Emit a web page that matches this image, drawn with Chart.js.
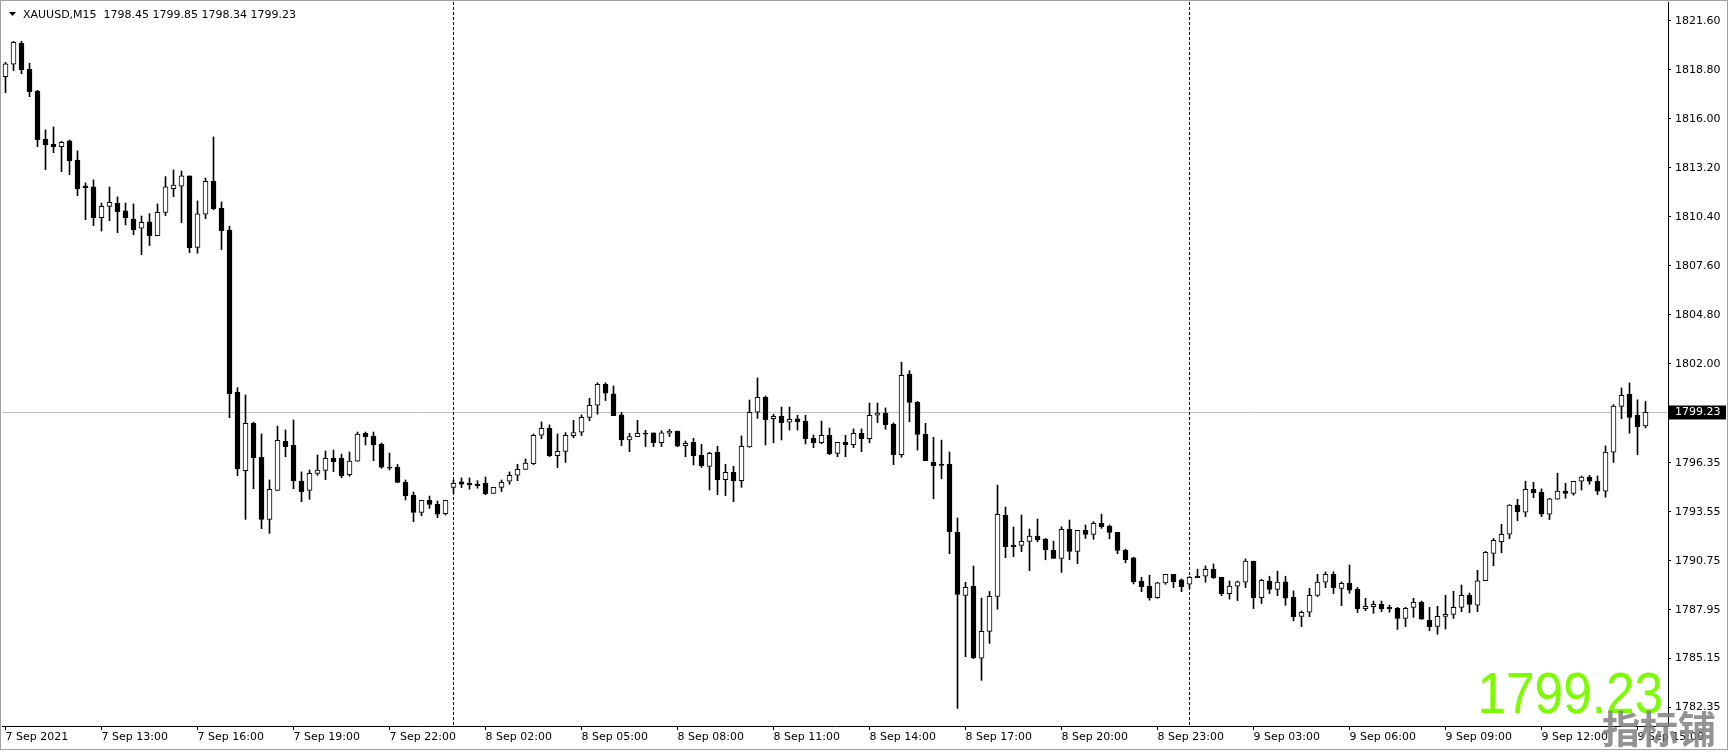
<!DOCTYPE html>
<html>
<head>
<meta charset="utf-8">
<title>XAUUSD,M15</title>
<script src="https://cdn.jsdelivr.net/npm/chart.js@4.4.0/dist/chart.umd.min.js"></script>
<style>
  html, body { margin: 0; padding: 0; background: #fff; }
  #grafico { display: block; }
</style>
</head>
<body>
<canvas id="grafico" width="1733" height="752"></canvas>
<script>
// velas M15, desde 7 Sep 10:00
var opens = [
  1818.41,1819.12,1820.32,1818.83,1817.59,1814.83,1814.55,1814.41,1814.74,1813.65,
  1812.18,1812.11,1810.36,1811.00,1811.19,1810.74,1810.28,1809.75,1810.11,1809.33,
  1810.66,1812.01,1812.15,1812.74,1808.66,1810.55,1812.43,1810.89,1809.64,1800.37,
  1795.89,1798.60,1796.65,1793.11,1794.77,1797.57,1797.34,1795.30,1794.77,1795.74,
  1795.91,1796.62,1796.62,1795.66,1796.43,1798.03,1797.87,1797.42,1796.08,1796.08,
  1795.22,1794.48,1793.51,1794.20,1793.97,1793.43,1794.94,1795.25,1795.17,1795.13,
  1795.19,1794.60,1794.94,1795.29,1795.63,1795.97,1796.30,1797.92,1798.32,1796.75,
  1797.00,1797.90,1798.09,1798.94,1799.63,1800.83,1800.28,1799.08,1797.65,1797.84,
  1798.03,1798.05,1797.50,1798.03,1798.16,1797.32,1797.51,1796.77,1796.14,1796.94,
  1795.38,1795.80,1795.32,1797.25,1799.23,1800.09,1798.87,1799.00,1798.66,1798.85,
  1798.73,1797.74,1797.50,1797.91,1796.88,1797.51,1797.38,1798.03,1797.72,1799.06,
  1799.19,1798.56,1796.81,1801.42,1799.80,1797.99,1796.37,1796.25,1796.25,1792.37,
  1788.77,1789.28,1785.17,1786.71,1788.71,1793.34,1791.64,1791.62,1791.85,1792.16,
  1791.99,1791.34,1790.88,1792.54,1791.28,1792.48,1792.25,1792.88,1792.73,1792.37,
  1791.34,1790.91,1789.59,1789.29,1788.64,1789.48,1789.97,1789.65,1789.40,1789.86,
  1789.86,1790.26,1789.80,1788.87,1789.29,1789.52,1790.72,1788.64,1789.59,1789.10,
  1789.54,1788.66,1787.57,1787.80,1788.77,1789.52,1789.97,1789.17,1789.45,1789.11,
  1788.00,1788.12,1788.25,1788.08,1788.02,1787.45,1788.08,1788.37,1787.34,1786.99,
  1787.57,1787.68,1788.08,1788.77,1788.20,1789.60,1791.17,1791.84,1792.26,1793.92,
  1793.52,1794.83,1794.66,1793.40,1794.26,1794.72,1794.60,1795.29,1795.52,1795.29,
  1794.72,1796.95,1799.57,1800.26,1799.06,1798.45
];
var highs = [
  1819.23,1820.43,1820.43,1819.18,1817.63,1815.37,1815.54,1814.72,1814.79,1814.17,
  1812.34,1812.51,1811.19,1812.11,1811.54,1811.19,1811.14,1810.45,1810.58,1811.14,
  1812.70,1813.08,1813.02,1812.74,1811.31,1812.62,1814.97,1811.25,1809.87,1800.64,
  1800.22,1798.67,1797.99,1795.36,1798.44,1798.22,1798.79,1795.82,1795.93,1796.79,
  1797.02,1797.07,1796.84,1796.96,1798.10,1798.10,1798.10,1797.47,1796.90,1796.25,
  1795.36,1794.67,1794.20,1794.44,1794.16,1794.20,1795.36,1795.48,1795.48,1795.32,
  1795.53,1794.94,1795.36,1795.82,1796.26,1796.56,1797.99,1798.68,1798.51,1797.99,
  1798.07,1798.77,1799.08,1800.03,1800.92,1800.92,1800.73,1799.23,1798.03,1798.77,
  1798.20,1798.05,1798.18,1798.26,1798.16,1797.59,1797.74,1797.40,1796.94,1797.29,
  1796.26,1796.14,1797.88,1799.93,1801.19,1800.16,1799.11,1799.53,1799.53,1799.06,
  1799.06,1797.93,1798.73,1798.33,1797.51,1797.91,1798.28,1798.28,1799.76,1799.76,
  1799.48,1798.62,1802.09,1801.61,1799.85,1798.60,1797.80,1797.64,1796.96,1793.19,
  1789.51,1790.44,1788.61,1788.99,1795.07,1793.81,1792.67,1793.36,1792.56,1793.13,
  1792.02,1791.87,1792.69,1793.07,1792.48,1792.79,1792.98,1793.41,1792.79,1792.37,
  1791.41,1790.95,1789.80,1789.92,1789.52,1789.97,1789.97,1789.71,1789.84,1790.26,
  1790.45,1790.56,1789.80,1789.59,1789.59,1790.85,1790.72,1789.69,1789.86,1790.15,
  1789.86,1789.02,1787.88,1789.17,1789.97,1790.11,1790.11,1789.54,1790.50,1789.22,
  1788.60,1788.44,1788.44,1788.21,1788.08,1788.08,1788.60,1788.44,1788.08,1788.14,
  1788.77,1789.00,1789.36,1788.90,1790.20,1791.28,1792.02,1792.83,1793.95,1794.26,
  1795.29,1795.23,1794.85,1794.32,1795.75,1795.17,1795.29,1795.59,1795.63,1795.59,
  1797.31,1799.67,1800.62,1800.91,1799.94,1799.85
];
var lows = [
  1817.50,1818.76,1818.58,1817.27,1814.41,1813.10,1814.07,1812.98,1812.81,1811.61,
  1810.24,1809.90,1809.59,1810.18,1809.50,1809.94,1809.38,1808.24,1808.76,1809.33,
  1810.47,1811.56,1810.07,1808.36,1808.32,1810.30,1810.80,1808.53,1798.92,1795.61,
  1793.11,1794.86,1792.58,1792.31,1794.77,1796.69,1794.86,1794.12,1794.25,1795.63,
  1795.38,1795.84,1795.49,1795.57,1796.43,1797.36,1796.46,1796.03,1795.93,1795.22,
  1794.22,1792.98,1793.32,1793.74,1793.21,1793.36,1794.60,1794.92,1794.83,1794.89,
  1794.52,1794.60,1794.70,1795.12,1795.32,1795.97,1796.24,1797.72,1796.70,1796.07,
  1796.37,1797.78,1797.90,1798.75,1799.12,1799.90,1799.04,1797.32,1796.98,1797.84,
  1797.27,1797.27,1797.27,1797.84,1797.27,1796.69,1796.22,1796.08,1794.79,1794.52,
  1794.47,1794.12,1794.94,1797.23,1798.88,1797.36,1797.49,1797.65,1798.22,1798.22,
  1797.42,1797.21,1797.44,1796.81,1796.69,1796.69,1797.21,1796.98,1797.49,1798.64,
  1798.26,1796.24,1796.66,1798.69,1797.07,1796.46,1794.29,1795.43,1791.15,1782.31,
  1785.26,1785.15,1783.91,1786.02,1787.97,1790.92,1790.98,1791.26,1790.18,1791.83,
  1790.80,1790.88,1790.08,1790.80,1790.58,1792.02,1791.97,1792.60,1792.00,1791.15,
  1790.63,1789.42,1788.98,1788.49,1788.60,1789.40,1789.21,1788.98,1789.15,1789.78,
  1789.52,1789.73,1788.75,1788.55,1788.47,1789.21,1788.01,1788.30,1788.87,1788.75,
  1788.20,1787.31,1786.98,1787.55,1788.70,1789.21,1788.87,1788.18,1788.88,1787.78,
  1787.89,1787.74,1787.83,1787.80,1786.82,1786.98,1787.51,1787.40,1786.75,1786.54,
  1786.84,1787.45,1787.83,1787.78,1787.83,1789.60,1790.46,1791.20,1792.01,1793.04,
  1793.27,1794.35,1793.27,1793.10,1794.26,1794.32,1794.49,1794.79,1795.12,1794.53,
  1794.37,1796.36,1798.87,1798.03,1796.81,1798.34
];
var closes = [
  1819.14,1820.38,1818.81,1817.56,1814.81,1814.53,1814.41,1814.66,1813.61,1812.01,
  1812.07,1810.36,1811.00,1811.23,1810.70,1810.36,1809.67,1810.09,1809.33,1810.66,
  1812.11,1812.22,1812.74,1808.64,1810.57,1812.43,1810.87,1809.61,1800.29,1796.01,
  1798.60,1796.63,1793.11,1794.82,1797.63,1797.26,1795.32,1794.69,1795.74,1795.93,
  1796.60,1796.41,1795.61,1796.44,1797.99,1797.84,1797.38,1796.10,1796.04,1795.22,
  1794.46,1793.51,1794.20,1793.97,1793.40,1794.20,1795.17,1795.12,1795.10,1795.04,
  1794.58,1794.94,1795.23,1795.63,1795.97,1796.32,1797.92,1798.32,1796.75,1797.00,
  1797.92,1798.07,1798.94,1799.63,1800.83,1800.32,1799.04,1797.65,1797.84,1798.03,
  1797.98,1797.50,1798.05,1798.16,1797.30,1797.46,1796.75,1796.18,1796.89,1795.38,
  1795.80,1795.32,1797.29,1799.23,1800.09,1798.81,1799.00,1798.64,1798.83,1798.70,
  1797.72,1797.50,1797.91,1796.87,1797.51,1797.38,1798.03,1797.72,1799.06,1799.19,
  1798.52,1796.81,1801.34,1799.80,1797.97,1796.46,1796.18,1796.19,1792.40,1788.82,
  1789.22,1785.19,1786.71,1788.71,1793.40,1791.55,1791.55,1791.85,1792.16,1791.95,
  1791.38,1790.88,1792.54,1791.28,1792.48,1792.25,1792.88,1792.69,1792.37,1791.34,
  1790.80,1789.55,1789.27,1788.64,1789.48,1789.97,1789.55,1789.27,1789.80,1789.78,
  1790.26,1789.78,1788.87,1789.29,1789.54,1790.72,1788.64,1789.63,1789.10,1789.52,
  1788.60,1787.55,1787.80,1788.77,1789.52,1789.97,1789.21,1789.46,1789.07,1788.00,
  1788.14,1788.25,1788.00,1788.00,1787.45,1788.02,1788.37,1787.40,1786.98,1787.57,
  1787.68,1788.08,1788.77,1788.25,1789.60,1791.22,1791.91,1792.26,1793.92,1793.55,
  1794.83,1794.64,1793.40,1794.28,1794.72,1794.60,1795.29,1795.52,1795.29,1794.72,
  1796.95,1799.59,1800.20,1798.93,1798.41,1799.23
];

// etiquetas de tiempo, una cada 12 velas (3 horas)
var timeLabels = [
  '7 Sep 2021', '7 Sep 13:00', '7 Sep 16:00', '7 Sep 19:00', '7 Sep 22:00',
  '8 Sep 02:00', '8 Sep 05:00', '8 Sep 08:00', '8 Sep 11:00', '8 Sep 14:00',
  '8 Sep 17:00', '8 Sep 20:00', '8 Sep 23:00', '9 Sep 03:00', '9 Sep 06:00',
  '9 Sep 09:00', '9 Sep 12:00', '9 Sep 15:00'
];
var priceTicks = [
  1821.60, 1818.80, 1816.00, 1813.20, 1810.40, 1807.60, 1804.80, 1802.00,
  1796.35, 1793.55, 1790.75, 1787.95, 1785.15, 1782.35
];
var daySeparators = [56, 148];   // primera vela de cada dia
var symbol = 'XAUUSD,M15';
var lastPrice = closes[closes.length - 1];

var fuente = '"DejaVu Sans", sans-serif';

var decoraciones = {
  id: 'decoraciones',
  beforeDatasetsDraw: function (chart) {
    var ctx = chart.ctx, area = chart.chartArea;
    var sx = chart.scales.x, sy = chart.scales.y;
    ctx.save();
    // linea del precio actual
    var py = Math.round(sy.getPixelForValue(lastPrice)) + 0.5;
    ctx.strokeStyle = '#c0c0c0';
    ctx.lineWidth = 1;
    ctx.beginPath();
    ctx.moveTo(area.left, py);
    ctx.lineTo(area.right, py);
    ctx.stroke();
    // separadores de dia
    ctx.strokeStyle = '#000';
    ctx.setLineDash([3, 2]);
    daySeparators.forEach(function (i) {
      var px = Math.floor(sx.getPixelForValue(i)) + 0.5;
      ctx.beginPath();
      ctx.moveTo(px, area.top);
      ctx.lineTo(px, area.bottom);
      ctx.stroke();
    });
    ctx.restore();
  },
  afterDraw: function (chart) {
    var ctx = chart.ctx, area = chart.chartArea;
    var sy = chart.scales.y;
    var n = closes.length - 1;
    ctx.save();

    // cabecera
    ctx.fillStyle = '#000';
    ctx.beginPath();
    ctx.moveTo(9, 12);
    ctx.lineTo(16, 12);
    ctx.lineTo(12.5, 16);
    ctx.closePath();
    ctx.fill();
    ctx.font = '11px ' + fuente;
    ctx.textAlign = 'left';
    ctx.textBaseline = 'alphabetic';
    ctx.fillText(symbol + '  ' + opens[n].toFixed(2) + ' ' + highs[n].toFixed(2) + ' ' +
      lows[n].toFixed(2) + ' ' + closes[n].toFixed(2), 23, 18);

    // etiqueta del precio en el eje
    var py = Math.round(sy.getPixelForValue(lastPrice)) + 0.5;
    ctx.fillStyle = '#000';
    ctx.fillRect(area.right + 1, py - 7, 57, 14);
    ctx.fillStyle = '#fff';
    ctx.textBaseline = 'middle';
    ctx.fillText(lastPrice.toFixed(2), area.right + 7, py);

    // precio grande
    ctx.save();
    ctx.translate(area.right - 5, 713);
    ctx.scale(0.9, 1);
    ctx.fillStyle = '#7cfc00';
    ctx.font = '57px "Liberation Sans", Arial, sans-serif';
    ctx.textAlign = 'right';
    ctx.textBaseline = 'alphabetic';
    ctx.fillText(lastPrice.toFixed(2), 0, 0);
    ctx.restore();

    // marca de agua
    ctx.fillStyle = 'rgba(128,128,128,0.85)';
    ctx.font = 'bold 38px "Noto Sans CJK SC", sans-serif';
    ctx.textAlign = 'left';
    ctx.textBaseline = 'middle';
    ctx.fillText('指标铺', 1602, 729);

    // marco de la ventana
    ctx.strokeStyle = '#a0a0a0';
    ctx.lineWidth = 1;
    ctx.strokeRect(0.5, 0.5, 1727, 749);
    ctx.restore();
  }
};

var cuerpos = opens.map(function (o, i) { return { x: i, y: [o, closes[i]] }; });
var mechas = lows.map(function (l, i) { return { x: i, y: [l, highs[i]] }; });
var coloresCuerpo = opens.map(function (o, i) { return closes[i] >= o ? '#ffffff' : '#000000'; });

var ctx = document.getElementById('grafico').getContext('2d');
var grafico = new Chart(ctx, {
  type: 'bar',
  data: {
    datasets: [{
      label: 'cuerpo',
      data: cuerpos,
      backgroundColor: coloresCuerpo,
      borderColor: '#000',
      borderWidth: 1,
      borderSkipped: false,
      barThickness: 5,
      minBarLength: 1,
      grouped: false,
      order: 0
    }, {
      label: 'mecha',
      data: mechas,
      backgroundColor: '#000',
      borderWidth: 0,
      barThickness: 1,
      grouped: false,
      order: 1
    }]
  },
  options: {
    responsive: false,
    animation: false,
    layout: { padding: { left: 2, top: 2, right: 0, bottom: 0 } },
    plugins: {
      legend: { display: false },
      tooltip: { enabled: false }
    },
    scales: {
      x: {
        type: 'linear',
        offset: false,
        min: -0.4375,
        max: 207.8125,
        afterFit: function (s) {
          s.height = 26;
          s.paddingLeft = 0;
          s.paddingRight = 0;
        },
        afterBuildTicks: function (s) {
          s.ticks = timeLabels.map(function (t, k) { return { value: k * 12 }; });
        },
        grid: { offset: false, drawOnChartArea: false, drawTicks: true, tickLength: 4, color: '#000' },
        border: { color: '#000' },
        ticks: {
          autoSkip: false,
          maxRotation: 0,
          align: 'start',
          padding: 1,
          color: '#000',
          font: { family: fuente, size: 11 },
          callback: function (v) { return timeLabels[Math.round(v / 12)]; }
        }
      },
      y: {
        position: 'right',
        min: 1781.30,
        max: 1822.68,
        afterFit: function (s) {
          s.width = 65;
          s.paddingTop = 0;
          s.paddingBottom = 0;
        },
        afterBuildTicks: function (s) {
          s.ticks = priceTicks.map(function (p) { return { value: p }; });
        },
        grid: { drawOnChartArea: false, drawTicks: true, tickLength: 3, color: '#000' },
        border: { color: '#000' },
        ticks: {
          padding: 4,
          color: '#000',
          font: { family: fuente, size: 11 },
          callback: function (v) { return v.toFixed(2); }
        }
      }
    }
  },
  plugins: [decoraciones]
});
</script>
</body>
</html>
